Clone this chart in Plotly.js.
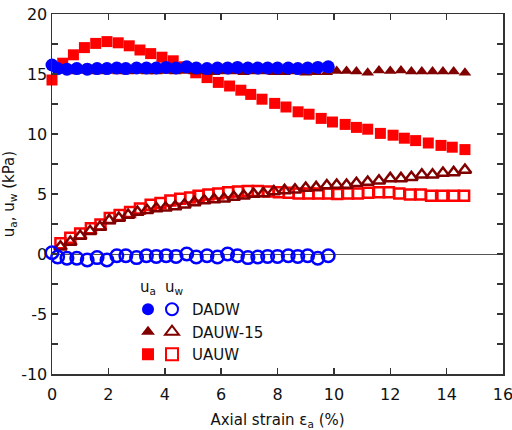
<!DOCTYPE html>
<html>
<head>
<meta charset="utf-8">
<script src="https://cdn.plot.ly/plotly-3.0.1.min.js"></script>
<style>body{margin:0;padding:0;background:#fff}#chart{width:512px;height:430px}</style>
</head>
<body>
<div id="chart"></div>
<script>
// DADW
var dadwStrain = [0, 0.2, 0.53, 0.88, 1.25, 1.6, 1.95, 2.3, 2.62, 3.0, 3.35, 3.7, 4.05, 4.4, 4.78, 5.12, 5.5, 5.87, 6.23, 6.58, 6.95, 7.3, 7.65, 8.0, 8.38, 8.72, 9.07, 9.43, 9.8];
var dadwUa = [15.75, 15.45, 15.4, 15.45, 15.4, 15.45, 15.45, 15.5, 15.45, 15.5, 15.5, 15.5, 15.55, 15.5, 15.6, 15.5, 15.45, 15.5, 15.5, 15.55, 15.5, 15.5, 15.5, 15.5, 15.5, 15.45, 15.5, 15.55, 15.6];
var dadwUw = [0.1, -0.25, -0.35, -0.35, -0.5, -0.3, -0.5, -0.15, -0.15, -0.3, -0.15, -0.2, -0.15, -0.2, 0.0, -0.25, -0.15, -0.25, 0.0, -0.15, -0.3, -0.25, -0.2, -0.2, -0.15, -0.2, -0.15, -0.35, -0.15];
// DAUW-15
var dauwStrain = [0.3, 0.65, 1.0, 1.35, 1.7, 2.03, 2.37, 2.7, 3.03, 3.37, 3.7, 4.03, 4.37, 4.7, 5.05, 5.4, 5.75, 6.1, 6.45, 6.8, 7.15, 7.5, 7.87, 8.25, 8.62, 9.0, 9.37, 9.75, 10.1, 10.45, 10.8, 11.2, 11.6, 12.0, 12.38, 12.75, 13.12, 13.5, 13.87, 14.25, 14.65];
var dauwUa = [15.3, 15.2, 15.25, 15.2, 15.2, 15.25, 15.2, 15.2, 15.25, 15.2, 15.2, 15.25, 15.2, 15.25, 15.2, 15.2, 15.15, 15.2, 15.2, 15.15, 15.2, 15.2, 15.15, 15.15, 15.2, 15.1, 15.15, 15.15, 15.25, 15.25, 15.2, 15.1, 15.3, 15.25, 15.3, 15.2, 15.2, 15.2, 15.2, 15.2, 15.1];
var dauwUw = [0.6, 1.0, 1.5, 1.9, 2.25, 2.8, 3.0, 3.25, 3.5, 3.65, 3.8, 3.85, 3.95, 4.1, 4.3, 4.45, 4.55, 4.6, 4.75, 4.85, 5.0, 5.05, 5.2, 5.3, 5.35, 5.5, 5.55, 5.7, 5.75, 5.75, 5.9, 6.0, 6.1, 6.3, 6.3, 6.4, 6.6, 6.6, 6.75, 6.8, 7.0];
// UAUW
var uauwStrainUa = [0, 0.38, 0.76, 1.15, 1.55, 1.95, 2.35, 2.74, 3.12, 3.5, 3.9, 4.3, 4.7, 5.1, 5.5, 5.9, 6.3, 6.7, 7.05, 7.45, 7.9, 8.3, 8.73, 9.12, 9.55, 9.95, 10.4, 10.8, 11.2, 11.65, 12.1, 12.5, 12.9, 13.35, 13.8, 14.2, 14.65];
var uauwUa = [14.5, 15.9, 16.6, 17.2, 17.55, 17.7, 17.6, 17.35, 17.0, 16.7, 16.4, 16.1, 15.6, 15.1, 14.7, 14.3, 14.0, 13.65, 13.3, 12.9, 12.55, 12.25, 11.85, 11.65, 11.3, 11.0, 10.8, 10.55, 10.4, 10.05, 9.9, 9.65, 9.45, 9.25, 9.05, 8.9, 8.7];
var uauwStrainUw = [0.3, 0.65, 1.0, 1.38, 1.72, 2.05, 2.4, 2.77, 3.12, 3.5, 3.85, 4.2, 4.55, 4.9, 5.2, 5.55, 5.9, 6.25, 6.6, 6.95, 7.3, 7.68, 8.05, 8.4, 8.75, 9.1, 9.45, 9.8, 10.12, 10.5, 10.85, 11.22, 11.6, 11.95, 12.32, 12.7, 13.08, 13.45, 13.85, 14.25, 14.62];
var uauwUw = [0.9, 1.35, 1.7, 2.15, 2.45, 3.0, 3.25, 3.5, 3.8, 4.1, 4.25, 4.45, 4.6, 4.7, 4.85, 4.95, 5.05, 5.15, 5.2, 5.25, 5.25, 5.2, 5.15, 5.1, 5.05, 5.05, 5.05, 5.05, 5.0, 5.05, 5.05, 5.1, 5.15, 5.15, 5.05, 4.95, 4.95, 4.85, 4.85, 4.85, 4.85];

var seriesNames = ['DADW', 'DAUW-15', 'UAUW'];
var yTickVals = [-10, -5, 0, 5, 10, 15, 20];
var yTickText = ['-10', '-5', '0', '5', '10', '15', '20'];
var xTickVals = [0, 2, 4, 6, 8, 10, 12, 14, 16];
var xTitle = 'Axial strain ε<sub>a</sub> (%)';
var yTitle = 'u<sub>a</sub>, u<sub>w</sub> (kPa)';

var BLUE = '#0000ff', MAROON = '#800000', RED = '#ff0000';
var FONT = 'DejaVu Sans, Verdana, sans-serif';

function tr(x, y, sym, size, color, open, name, legend, rank) {
  return {
    x: x, y: y, type: 'scatter', mode: 'markers', cliponaxis: false,
    name: name, legend: legend, legendrank: rank,
    marker: open ? {symbol: sym + '-open', size: size, color: color, line: {color: color, width: 2.5}}
                 : {symbol: sym, size: size, color: color, line: {width: 0}}
  };
}

var data = [
  tr(uauwStrainUw, uauwUw, 'square', 10, RED, true, seriesNames[2], 'legend2', 3),
  tr(uauwStrainUa, uauwUa, 'square', 11, RED, false, ' ', 'legend', 3),
  tr(dauwStrain, dauwUa, 'triangle-up', 11, MAROON, false, ' ', 'legend', 2),
  tr(dauwStrain, dauwUw, 'triangle-up', 11, MAROON, true, seriesNames[1], 'legend2', 2),
  tr(dadwStrain, dadwUa, 'circle', 13, BLUE, false, ' ', 'legend', 1),
  tr(dadwStrain, dadwUw, 'circle', 12.5, BLUE, true, seriesNames[0], 'legend2', 1)
];

var axisCommon = {
  showline: true, linecolor: '#333', linewidth: 1.5, mirror: 'allticks',
  ticks: 'inside', ticklen: 6, tickwidth: 1.5, tickcolor: '#333',
  showgrid: false, tickfont: {family: FONT, size: 16, color: '#111'},
  ticklabeloverflow: 'allow'
};

var legendCommon = {
  y: (374 - 293) / 360, xanchor: 'left', yanchor: 'top',
  bgcolor: 'rgba(0,0,0,0)', borderwidth: 0, itemsizing: 'constant',
  font: {family: FONT, size: 15, color: '#111'}, tracegroupgap: 0, itemclick: false
};

var layout = {
  width: 512, height: 430,
  margin: {l: 52, r: 9, t: 14, b: 56},
  paper_bgcolor: '#fff', plot_bgcolor: '#fff',
  showlegend: true,
  xaxis: Object.assign({}, axisCommon, {
    range: [0, 16], tickvals: xTickVals, zeroline: false, ticklabelstandoff: 5,
    title: {text: xTitle, font: {family: FONT, size: 15, color: '#111'}, standoff: 12}
  }),
  yaxis: Object.assign({}, axisCommon, {
    range: [-10, 20], tickvals: yTickVals, ticktext: yTickText,
    zeroline: true, zerolinecolor: '#555', zerolinewidth: 1,
    minor: {dtick: 2.5, ticks: 'inside', ticklen: 6, tickwidth: 1.5, tickcolor: '#333', showgrid: false},
    title: {text: yTitle, font: {family: FONT, size: 15, color: '#111'}, standoff: 8}
  }),
  legend: Object.assign({}, legendCommon, {x: (128 - 52) / 451}),
  legend2: Object.assign({}, legendCommon, {x: (152 - 52) / 451}),
  annotations: [
    {xref: 'paper', yref: 'paper', x: (148 - 52) / 451, y: (374 - 287) / 360, text: 'u<sub>a</sub>',
     showarrow: false, xanchor: 'center', yanchor: 'middle', font: {family: FONT, size: 15, color: '#111'}},
    {xref: 'paper', yref: 'paper', x: (174 - 52) / 451, y: (374 - 287) / 360, text: 'u<sub>w</sub>',
     showarrow: false, xanchor: 'center', yanchor: 'middle', font: {family: FONT, size: 15, color: '#111'}}
  ]
};

Plotly.newPlot('chart', data, layout, {staticPlot: true, displayModeBar: false});
</script>
</body>
</html>
